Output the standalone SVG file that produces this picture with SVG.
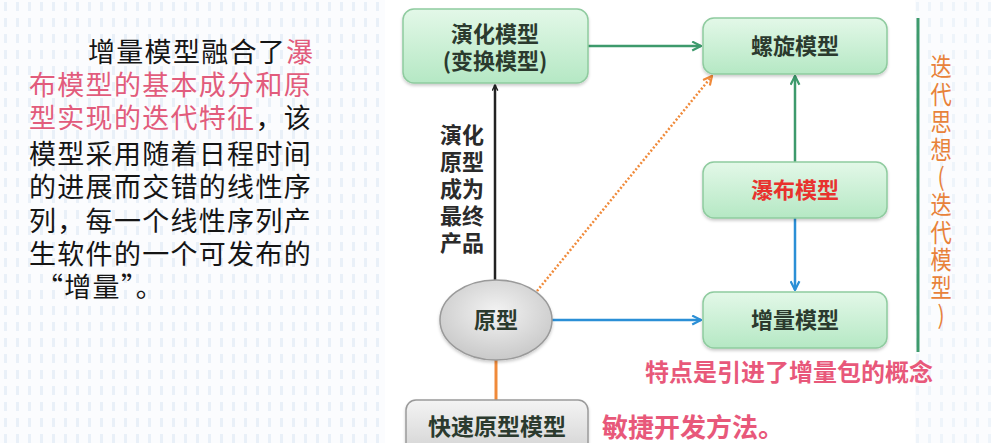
<svg xmlns="http://www.w3.org/2000/svg" width="991" height="443" viewBox="0 0 991 443">
<style>
.t{font-family:"Noto Sans CJK SC","Noto Sans",sans-serif}
.para{font-size:27px;letter-spacing:1.3px;fill:#151515}
.pink{fill:#e25c7c}
.node{font-size:22px;font-weight:bold;fill:#2b3a2e;text-anchor:middle}
.gbox{fill:url(#gg);stroke:#8fcb9f;stroke-width:1.5}
.side{font-size:25px;fill:#e8823a;writing-mode:vertical-rl;text-orientation:upright;letter-spacing:2.6px}
.lbl{font-size:22px;font-weight:bold;fill:#2b2b2b}
.note{font-weight:bold;fill:#e8587a}
</style>
<defs>
<linearGradient id="gg" x1="0" y1="0" x2="0" y2="1"><stop offset="0" stop-color="#e3f8e8"/><stop offset="1" stop-color="#b5e8c4"/></linearGradient>
<linearGradient id="grey" x1="0" y1="0" x2="0" y2="1"><stop offset="0" stop-color="#f4f4f4"/><stop offset="1" stop-color="#cfcfcf"/></linearGradient>
<radialGradient id="ell" cx="0.5" cy="0.4" r="0.6"><stop offset="0" stop-color="#f3f3f3"/><stop offset="1" stop-color="#c9c9c9"/></radialGradient>
<filter id="sh" x="-10%" y="-10%" width="120%" height="130%"><feDropShadow dx="0" dy="2" stdDeviation="1.5" flood-color="#000" flood-opacity="0.2"/></filter>
<pattern id="dots" width="12" height="16" patternUnits="userSpaceOnUse"><rect x="4" y="2" width="3" height="9" fill="#e9f0f8"/></pattern>
<marker id="aK" viewBox="0 0 10 10" refX="9" refY="5" markerWidth="7" markerHeight="7" orient="auto-start-reverse" markerUnits="userSpaceOnUse"><path d="M1,1 L9,5 L1,9" fill="none" stroke="#222" stroke-width="2"/></marker>
<marker id="aG" viewBox="0 0 10 10" refX="9" refY="5" markerWidth="11" markerHeight="11" orient="auto" markerUnits="userSpaceOnUse"><path d="M1,1 L9,5 L1,9" fill="none" stroke="#3d9a6c" stroke-width="2"/></marker>
<marker id="aB" viewBox="0 0 10 10" refX="9" refY="5" markerWidth="11" markerHeight="11" orient="auto" markerUnits="userSpaceOnUse"><path d="M1,1 L9,5 L1,9" fill="none" stroke="#2b8fd6" stroke-width="2"/></marker>
<marker id="aO" viewBox="0 0 10 10" refX="9" refY="5" markerWidth="11" markerHeight="11" orient="auto" markerUnits="userSpaceOnUse"><path d="M1,1 L9,5 L1,9" fill="none" stroke="#f08a3a" stroke-width="2"/></marker>
</defs>
<rect width="991" height="443" fill="#fbfcfe"/>
<rect x="0" y="0" width="385" height="443" fill="url(#dots)"/>
<rect x="915" y="0" width="76" height="443" fill="url(#dots)" opacity="0.7"/>
<rect x="385" y="0" width="530" height="443" fill="#ffffff"/>

<g id="paragraph" class="t para">
<text x="88" y="62">增量模型融合了<tspan class="pink">瀑</tspan></text>
<text x="29" y="95" class="pink">布模型的基本成分和原</text>
<text x="29" y="128"><tspan class="pink">型实现的迭代特征</tspan>，该</text>
<text x="29" y="164">模型采用随着日程时间</text>
<text x="29" y="197">的进展而交错的线性序</text>
<text x="29" y="231">列，每一个线性序列产</text>
<text x="29" y="264">生软件的一个可发布的</text>
<text x="36" y="297">“增量”。</text>
</g>

<g id="connectors" fill="none">
<line x1="495" y1="280" x2="495" y2="85" stroke="#222" stroke-width="2.5" marker-end="url(#aK)"/>
<line x1="588" y1="46" x2="701" y2="46" stroke="#3d9a6c" stroke-width="2.5" marker-end="url(#aG)"/>
<line x1="537" y1="291" x2="712" y2="76" stroke="#f08a3a" stroke-width="2.5" stroke-dasharray="2,2" marker-end="url(#aO)"/>
<line x1="552" y1="320" x2="701" y2="320" stroke="#2b8fd6" stroke-width="2.5" marker-end="url(#aB)"/>
<line x1="795" y1="162" x2="795" y2="76" stroke="#3d9a6c" stroke-width="2.5" marker-end="url(#aG)"/>
<line x1="795" y1="218" x2="795" y2="290" stroke="#2b8fd6" stroke-width="2.5" marker-end="url(#aB)"/>
<line x1="496" y1="360" x2="496" y2="400" stroke="#f08a3a" stroke-width="3"/>
</g>

<g id="evolution" class="t">
<rect x="403" y="9" width="185" height="74" rx="11" class="gbox" filter="url(#sh)"/>
<text x="495" y="42" class="node">演化模型</text>
<text x="495" y="69" class="node">(变换模型)</text>
</g>

<g id="spiral" class="t">
<rect x="703" y="18" width="184" height="56" rx="11" class="gbox" filter="url(#sh)"/>
<text x="795" y="54" class="node">螺旋模型</text>
</g>

<g id="waterfall" class="t">
<rect x="703" y="162" width="184" height="56" rx="11" class="gbox" filter="url(#sh)"/>
<text x="795" y="198" class="node" style="fill:#e8322e">瀑布模型</text>
</g>

<g id="incremental" class="t">
<rect x="703" y="292" width="184" height="56" rx="11" class="gbox" filter="url(#sh)"/>
<text x="795" y="328" class="node">增量模型</text>
</g>

<g id="prototype" class="t">
<ellipse cx="496" cy="320" rx="56" ry="40" fill="url(#ell)" stroke="#9a9a9a" stroke-width="1.5" filter="url(#sh)"/>
<text x="496" y="328" class="node">原型</text>
</g>

<g id="rapid" class="t">
<rect x="406" y="400" width="182" height="60" rx="10" fill="url(#grey)" stroke="#9a9a9a" stroke-width="1.5" filter="url(#sh)"/>
<text x="497" y="435" class="node" style="font-size:23px">快速原型模型</text>
</g>

<g id="edge-label" class="t lbl">
<text x="440" y="143">演化<tspan x="440" dy="27">原型</tspan><tspan x="440" dy="27">成为</tspan><tspan x="440" dy="27">最终</tspan><tspan x="440" dy="27">产品</tspan></text>
</g>

<g id="iteration" class="t">
<line x1="918" y1="18" x2="918" y2="352" stroke="#3d9a6c" stroke-width="3"/>
<text class="side" transform="translate(941,54) scale(0.85,1)" x="0" y="0">迭代思想(迭代模型)</text>
</g>

<g id="notes" class="t note">
<text x="645" y="381" style="font-size:24px">特点是引进了增量包的概念</text>
<text x="602" y="437" style="font-size:26px">敏捷开发方法。</text>
</g>
</svg>
